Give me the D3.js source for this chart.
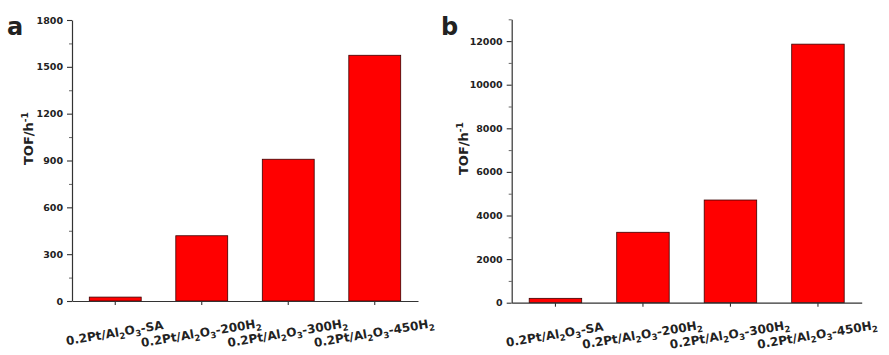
<!DOCTYPE html>
<html>
<head>
<meta charset="utf-8">
<script src="https://cdn.jsdelivr.net/npm/d3@7"></script>
<style>
  html, body { margin: 0; padding: 0; background: #fff; }
  svg text { font-family: 'DejaVu Sans', Arial, sans-serif; font-weight: bold; fill: #222; }
</style>
</head>
<body>
<div id="root"></div>
<script>
// samples (subscripted parts are marked with _)
const categories = ['0.2Pt/Al_2O_3-SA', '0.2Pt/Al_2O_3-200H_2', '0.2Pt/Al_2O_3-300H_2', '0.2Pt/Al_2O_3-450H_2']
const tofA = [25, 418, 908, 1574]
const tofB = [200, 3230, 4710, 11860]
const ticksA = [0, 300, 600, 900, 1200, 1500, 1800]
const minorA = [150, 450, 750, 1050, 1350, 1650]
const ticksB = [0, 2000, 4000, 6000, 8000, 10000, 12000]
const minorB = [1000, 3000, 5000, 7000, 9000, 11000, 13000]

const width = 889
const height = 355

const svg = d3.select('#root').append('svg').attr('width', width).attr('height', height)

function addLabel(sel, str) {
  // split "Al_2O_3" style strings into normal / subscript tspans
  const parts = str.split(/(_\d)/).filter((p) => p.length)
  let down = false
  parts.forEach((p) => {
    if (p[0] === '_') {
      sel.append('tspan').attr('font-size', '8.5px').attr('dy', down ? 0 : 3).text(p.slice(1))
      down = true
    } else {
      sel.append('tspan').attr('dy', down ? -3 : 0).text(p)
      down = false
    }
  })
}

function panel(cfg) {
  const g = svg.append('g')

  const x = d3.scaleBand().domain(categories).range([cfg.left, cfg.right])
    .paddingInner(0.4).paddingOuter(0.2)
  const y = d3.scaleLinear().domain([0, cfg.yMax]).range([cfg.bottom, cfg.top])

  // bars
  g.append('g')
    .selectAll('rect')
    .data(cfg.values)
    .join('rect')
    .attr('x', (d, i) => x(categories[i]))
    .attr('y', (d) => y(d))
    .attr('width', x.bandwidth())
    .attr('height', (d) => y(0) - y(d))
    .attr('fill', '#ff0000')
    .attr('stroke', '#3a0000')
    .attr('stroke-width', 0.8)

  // minor y ticks
  g.append('g')
    .attr('transform', `translate(${cfg.left},0)`)
    .call(d3.axisLeft(y).tickValues(cfg.minor).tickSize(3).tickFormat(''))
    .call((s) => s.select('.domain').remove())
    .call((s) => s.selectAll('line').attr('stroke', '#666'))

  // y axis
  const ya = g.append('g')
    .attr('transform', `translate(${cfg.left},0)`)
    .call(d3.axisLeft(y).tickValues(cfg.ticks).tickFormat(d3.format('d'))
      .tickSize(5).tickSizeOuter(0).tickPadding(4))
  ya.select('.domain').attr('stroke', '#333').attr('stroke-width', 1.2)
  ya.selectAll('line').attr('stroke', '#333').attr('stroke-width', 1.1)
  ya.selectAll('text').attr('font-size', '9.5px').attr('font-family', null).attr('fill', '#222')

  // x axis
  const xa = g.append('g')
    .attr('transform', `translate(0,${cfg.bottom})`)
    .call(d3.axisBottom(x).tickSize(4).tickSizeOuter(0).tickFormat(''))
  xa.select('.domain').attr('stroke', '#333').attr('stroke-width', 1.2)
  xa.selectAll('line').attr('stroke', '#333').attr('stroke-width', 1.1)

  // rotated category labels
  g.append('g')
    .selectAll('text')
    .data(categories)
    .join('text')
    .attr('text-anchor', 'middle')
    .attr('font-size', '12px')
    .attr('transform', (d) => `translate(${x(d) + x.bandwidth() / 2},${cfg.bottom + 36}) rotate(-9.5)`)
    .each(function (d) {
      addLabel(d3.select(this), d)
    })

  // y title
  const t = g.append('text')
    .attr('font-size', '13px')
    .attr('transform', `translate(${cfg.titleX},${cfg.titleY}) rotate(-90)`)
  t.append('tspan').text('TOF/h')
  t.append('tspan').attr('font-size', '9px').attr('dy', -5).text('-1')

  // panel letter
  g.append('text')
    .attr('x', cfg.letterX)
    .attr('y', 35)
    .attr('font-family', 'Liberation Sans, Arial, sans-serif')
    .attr('font-size', '24px')
    .attr('fill', '#111')
    .text(cfg.letter)
}

panel({
  letter: 'a', letterX: 7,
  values: tofA, ticks: ticksA, minor: minorA, yMax: 1800,
  left: 72, right: 418, top: 20, bottom: 301,
  titleX: 33, titleY: 165,
})

panel({
  letter: 'b', letterX: 441,
  values: tofB, ticks: ticksB, minor: minorB, yMax: 13000,
  left: 511.7, right: 861.7, top: 19.3, bottom: 302.7,
  titleX: 468, titleY: 175,
})
</script>
</body>
</html>
